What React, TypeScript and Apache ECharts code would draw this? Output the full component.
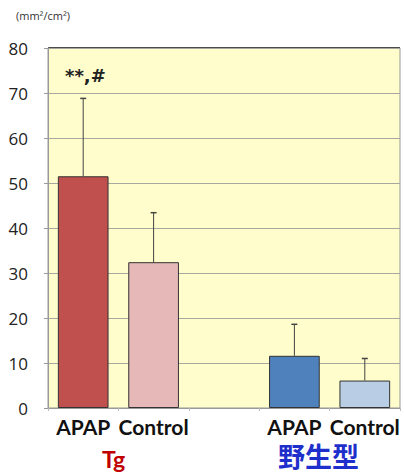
import React, { useEffect, useRef } from "react";
import * as echarts from "echarts";

const categories = ["APAP", "Control", "", "APAP", "Control"];
const means = [51.5, 32.4, null, 11.6, 6.1];
const upperErr = [68.8, 43.4, null, 18.6, 11.0];
const barColors = ["#C0504D", "#E6B9B8", "#ffffff", "#4F81BD", "#B9CDE5"];
const yTicks = { min: 0, max: 80, interval: 10 };
const unitLabel = "(mm²/cm²)";
const significance = "**,#";
const groupLabels = ["Tg", "野生型"];

export default function App() {
  const ref = useRef<HTMLDivElement>(null);
  useEffect(() => {
    if (!ref.current) return;
    const chart = echarts.init(ref.current, null, { renderer: "svg" });
    const barData = means.map((v, i) =>
      v === null
        ? "-"
        : {
            value: v,
            itemStyle: { color: barColors[i], borderColor: "#333", borderWidth: 1 },
          }
    );
    const errData = means
      .map((v, i) => (v === null ? null : [i, v, upperErr[i]]))
      .filter((d) => d !== null);
    chart.setOption({
      animation: false,
      grid: { left: 48, right: 4, top: 48, bottom: 66, show: true, backgroundColor: "#FEFDCB", borderColor: "#999", borderWidth: 1 },
      xAxis: {
        type: "category",
        data: categories,
        axisLine: { lineStyle: { color: "#999" } },
        axisTick: { show: true, length: 3, lineStyle: { color: "#bbb" } },
        axisLabel: { interval: 0, fontFamily: "Lato", fontWeight: "bold", fontSize: 21, color: "#111", margin: 8 },
      },
      yAxis: {
        type: "value",
        min: yTicks.min,
        max: yTicks.max,
        interval: yTicks.interval,
        axisLine: { show: true, lineStyle: { color: "#999" } },
        axisTick: { show: true, length: 4, lineStyle: { color: "#999" } },
        splitLine: { lineStyle: { color: "#A8A8A0" } },
        axisLabel: { fontFamily: "Open Sans", fontSize: 17, color: "#222", margin: 20 },
      },
      graphic: [
        { type: "line", shape: { x1: 48, y1: 48, x2: 400, y2: 48 }, style: { stroke: "#222", lineWidth: 1.5 } },
        { type: "text", left: 16, top: 10, style: { text: unitLabel, fontSize: 11, fill: "#333", fontFamily: "Open Sans" } },
        { type: "text", left: 65, top: 66, style: { text: significance, fontSize: 18, fontWeight: "bold", fill: "#222", fontFamily: "DejaVu Sans" } },
        { type: "text", left: 102, top: 447, style: { text: groupLabels[0], fontSize: 23, fontWeight: "bold", fill: "#C00000", fontFamily: "Lato" } },
        { type: "text", left: 278, top: 442, style: { text: groupLabels[1], fontSize: 27, fontWeight: "bold", fill: "#1F2FCC", fontFamily: "Noto Sans CJK JP" } },
      ],
      series: [
        {
          type: "bar",
          data: barData,
          barWidth: "72%",
          z: 2,
        },
        {
          type: "custom",
          z: 3,
          data: errData,
          renderItem: (params: any, api: any) => {
            const x = api.value(0);
            const p0 = api.coord([x, api.value(1)]);
            const p1 = api.coord([x, api.value(2)]);
            return {
              type: "group",
              children: [
                { type: "line", shape: { x1: p0[0], y1: p0[1], x2: p1[0], y2: p1[1] }, style: { stroke: "#444", lineWidth: 1 } },
                { type: "line", shape: { x1: p1[0] - 3, y1: p1[1], x2: p1[0] + 3, y2: p1[1] }, style: { stroke: "#444", lineWidth: 1.5 } },
              ],
            };
          },
        },
      ],
    });
    return () => chart.dispose();
  }, []);
  return <div ref={ref} style={{ width: 404, height: 474, position: "absolute", left: 0, top: 0 }} />;
}
